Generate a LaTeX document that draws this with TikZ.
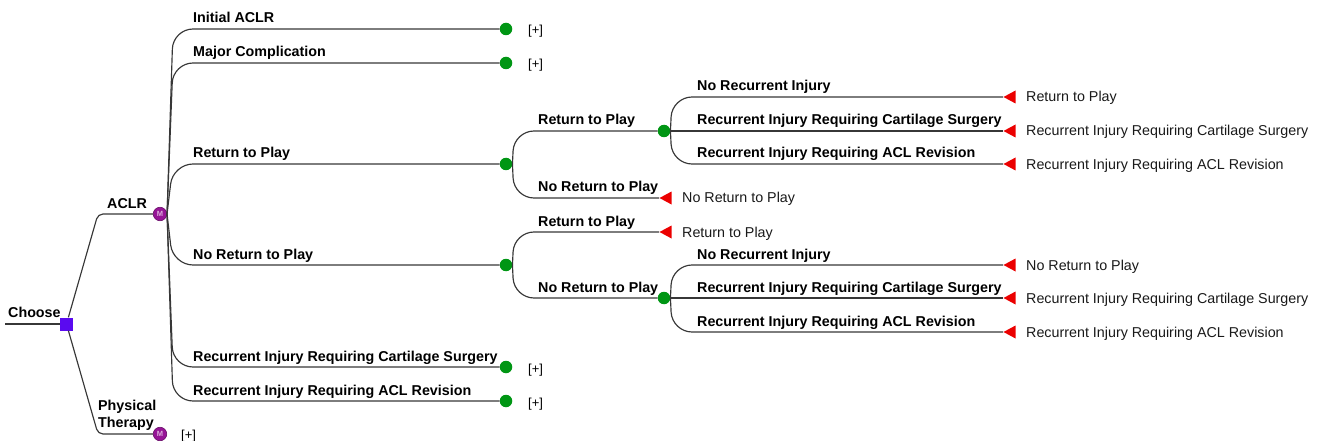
\documentclass[tikz,border=0pt]{standalone}
\usepackage{fontspec}
\setmainfont{Liberation Sans}
\usetikzlibrary{shapes.geometric}
\definecolor{linegray}{RGB}{55,55,55}
\definecolor{chgreen}{RGB}{0,150,20}
\definecolor{mkpurple}{RGB}{150,20,150}
\definecolor{decblue}{RGB}{90,10,240}
\definecolor{termred}{RGB}{235,0,0}
\begin{document}
\begin{tikzpicture}[x=1pt,y=-1pt,
  conn/.style={draw=linegray, line width=1.15pt, rounded corners=20pt},
  chance/.style={circle, fill=chgreen, minimum size=12.5pt, inner sep=0pt},
  markov/.style={circle, fill=mkpurple, draw=mkpurple!70!black, line width=0.6pt,
    minimum size=13.5pt, inner sep=0pt,
    font=\fontsize{7.5}{7.5}\selectfont\bfseries, text=mkpurple!35!white},
  decision/.style={rectangle, fill=decblue, minimum size=13pt, inner sep=0pt},
  terminal/.style={isosceles triangle, isosceles triangle stretches,
    shape border rotate=180, minimum width=13pt, minimum height=12pt,
    inner sep=0pt, fill=termred, anchor=apex},
  blabel/.style={font=\fontsize{14.3}{17}\selectfont\bfseries, anchor=base west, inner sep=0pt},
  tlabel/.style={font=\fontsize{14.3}{17}\selectfont, anchor=base west, inner sep=0pt, text=black!90},
  plus/.style={font=\fontsize{13}{15}\selectfont, anchor=base west, inner sep=0pt}
]
\useasboundingbox (0,0) rectangle (1323,441);

% ---------- nodes ----------
\coordinate (in) at (5,324);
\node[decision] (D) at (66.5,324) {};
\node[markov] (M1) at (160,214) {M};
\node[markov] (M2) at (160,434) {M};

% level 1 (children of ACLR)
\node[chance] (I)  at (506,29)  {};
\node[chance] (MC) at (506,63)  {};
\node[chance] (R)  at (506,164) {};
\node[chance] (N)  at (506,265) {};
\node[chance] (RC) at (506,367) {};
\node[chance] (RA) at (506,401) {};

% level 2
\node[chance]   (RR) at (664,131) {};
\node[terminal] (RN) at (659,198) {};
\node[terminal] (NR) at (659,232) {};
\node[chance]   (NN) at (664,298) {};

% level 3 under RR
\node[terminal] (RR1) at (1003,97)  {};
\node[terminal] (RR2) at (1003,131) {};
\node[terminal] (RR3) at (1003,164) {};
% level 3 under NN
\node[terminal] (NN1) at (1003,265) {};
\node[terminal] (NN2) at (1003,298) {};
\node[terminal] (NN3) at (1003,332) {};

% corner coordinates
\coordinate (m1k) at (173,214);
\coordinate (rk)  at (514,164);
\coordinate (nk)  at (514,265);
\coordinate (rrk) at (672,131);
\coordinate (nnk) at (672,298);

% ---------- connectors ----------
\draw[conn] (in) -- (D);
\draw[conn, rounded corners=5pt] (D) -- ([xshift=-62pt]M1.center) -- (M1);
\draw[conn, rounded corners=5pt] (D) -- ([xshift=-62pt]M2.center) -- (M2);

\foreach \t in {I,MC,R,N,RC,RA}
  \draw[conn] (M1.east) -- (m1k |- \t) -- (\t);

\draw[conn] (R.east) -- (rk |- RR) -- (RR);
\draw[conn] (R.east) -- (rk |- RN) -- (RN.apex);
\draw[conn] (N.east) -- (nk |- NR) -- (NR.apex);
\draw[conn] (N.east) -- (nk |- NN) -- (NN);

\draw[conn] (RR.east) -- (rrk |- RR1) -- (RR1.apex);
\draw[conn] (RR) -- (RR2.apex);
\draw[conn] (RR.east) -- (rrk |- RR3) -- (RR3.apex);
\draw[conn] (NN.east) -- (nnk |- NN1) -- (NN1.apex);
\draw[conn] (NN) -- (NN2.apex);
\draw[conn] (NN.east) -- (nnk |- NN3) -- (NN3.apex);

% ---------- labels ----------
\node[blabel] (lChoose) at (8,317) {Choose};
\node[blabel] (lACLR) at (107,208) {ACLR};
\node[font=\fontsize{14.3}{17.5}\selectfont\bfseries, anchor=south west, inner sep=0pt, align=left] (lPT) at (98,431) {Physical\\Therapy};
\node[plus] (pPT) at (181,439) {[+]};

\node[blabel] (lI)  at (193,23)  {Initial ACLR};
\node[blabel] (lMC) at (193,57)  {Major Complication};
\node[blabel] (lR)  at (193,158) {Return to Play};
\node[blabel] (lN)  at (193,259) {No Return to Play};
\node[blabel] (lRC) at (193,361) {Recurrent Injury Requiring Cartilage Surgery};
\node[blabel] (lRA) at (193,395) {Recurrent Injury Requiring ACL Revision};

\node[plus] (pI)  at (528,35)  {[+]};
\node[plus] (pMC) at (528,69)  {[+]};
\node[plus] (pRC) at (528,373) {[+]};
\node[plus] (pRA) at (528,407) {[+]};

\node[blabel] (lRR) at (538,125) {Return to Play};
\node[blabel] (lRN) at (538,192) {No Return to Play};
\node[blabel] (lNR) at (538,226) {Return to Play};
\node[blabel] (lNN) at (538,292) {No Return to Play};
\node[tlabel] (tRN) at (682,203) {No Return to Play};
\node[tlabel] (tNR) at (682,237) {Return to Play};

\node[blabel] (lRR1) at (697,91)  {No Recurrent Injury};
\node[blabel] (lRR2) at (697,125) {Recurrent Injury Requiring Cartilage Surgery};
\node[blabel] (lRR3) at (697,158) {Recurrent Injury Requiring ACL Revision};
\node[blabel] (lNN1) at (697,259) {No Recurrent Injury};
\node[blabel] (lNN2) at (697,292) {Recurrent Injury Requiring Cartilage Surgery};
\node[blabel] (lNN3) at (697,326) {Recurrent Injury Requiring ACL Revision};

\node[tlabel] (tRR1) at (1026,102) {Return to Play};
\node[tlabel] (tRR2) at (1026,136) {Recurrent Injury Requiring Cartilage Surgery};
\node[tlabel] (tRR3) at (1026,169) {Recurrent Injury Requiring ACL Revision};
\node[tlabel] (tNN1) at (1026,270) {No Return to Play};
\node[tlabel] (tNN2) at (1026,303) {Recurrent Injury Requiring Cartilage Surgery};
\node[tlabel] (tNN3) at (1026,337) {Recurrent Injury Requiring ACL Revision};
\end{tikzpicture}
\end{document}
